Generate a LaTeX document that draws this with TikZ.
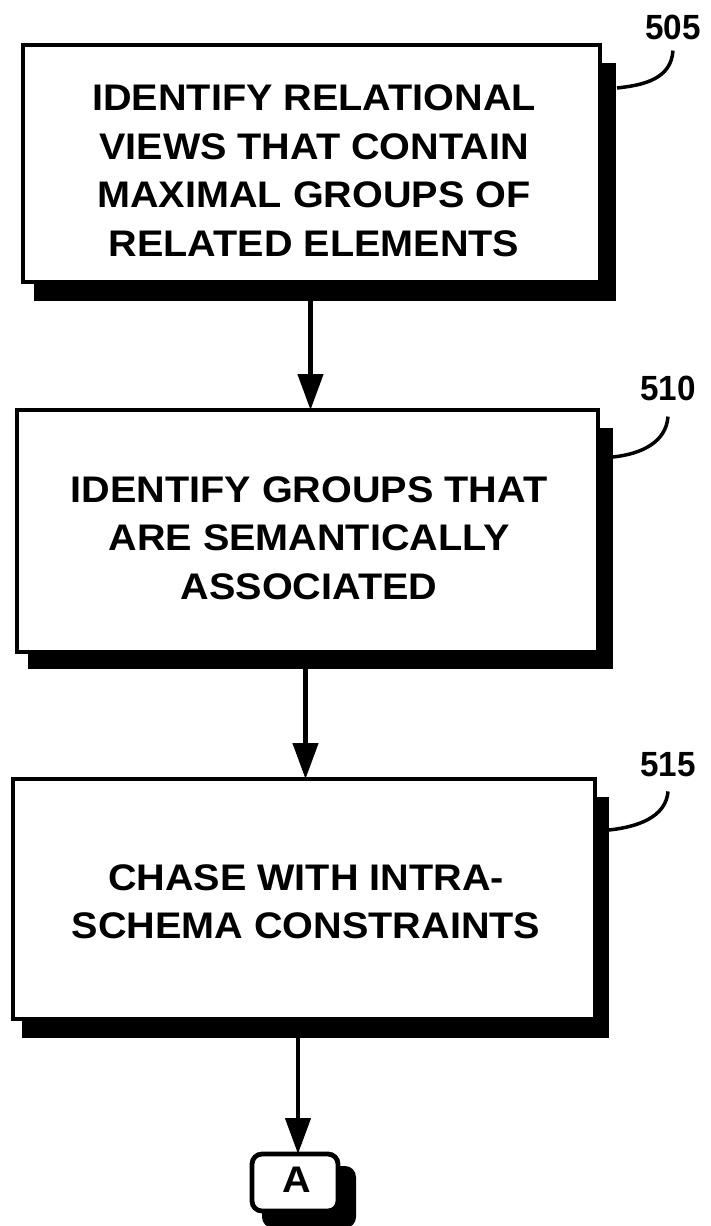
\documentclass[tikz,border=0pt]{standalone}
\usepackage{fontspec}
\newfontfamily\boxfont{Liberation Sans}[FakeStretch=1.07]
\newfontfamily\numfont{Liberation Sans}[FakeStretch=0.95]
\usetikzlibrary{arrows.meta,calc}
\begin{document}
\begin{tikzpicture}[x=1pt,y=-1pt,
  stepbox/.style={draw,line width=4.8pt,fill=white,inner sep=0pt,outer sep=0pt},
  steptext/.style={align=center,inner sep=0pt,font=\boxfont\bfseries\fontsize{37}{48.5}\selectfont},
  shadowbox/.style={fill=black,inner sep=0pt,outer sep=0pt},
  arr/.style={line width=4.5pt,-{Triangle[length=36pt,width=25pt]}},
  leader/.style={line width=3.5pt},
  reflabel/.style={inner sep=0pt,font=\numfont\bfseries\fontsize{35}{35}\selectfont}]
\useasboundingbox (0,0) rectangle (711,1226);
\fill[white] (0,0) rectangle (711,1226);

% box 1
\node[shadowbox,minimum width=582pt,minimum height=238pt] (s1) at (325,182) {};
\node[stepbox,minimum width=577pt,minimum height=237pt] (b1) at (311.5,163.5) {};
\node[steptext] (t1) at (314,171) {IDENTIFY RELATIONAL\\VIEWS THAT CONTAIN\\MAXIMAL GROUPS OF\\RELATED ELEMENTS};

% box 2
\node[shadowbox,minimum width=585pt,minimum height=241pt] (s2) at (320.5,548.5) {};
\node[stepbox,minimum width=581pt,minimum height=242pt] (b2) at (307.5,531) {};
\node[steptext] (t2) at (309,538) {IDENTIFY GROUPS THAT\\ARE SEMANTICALLY\\ASSOCIATED};

% box 3
\node[shadowbox,minimum width=587pt,minimum height=241pt] (s3) at (315.5,917.5) {};
\node[stepbox,minimum width=582pt,minimum height=240pt] (b3) at (304,899) {};
\node[steptext] (t3) at (306,902) {CHASE WITH INTRA-\\SCHEMA CONSTRAINTS};

% connector A
\node[shadowbox,rounded corners=11pt,minimum width=94pt,minimum height=62pt] (sA) at (309,1197) {};
\node[stepbox,rounded corners=10pt,minimum width=86pt,minimum height=57pt] (A) at (295,1182.5) {};
\node[steptext] (tA) at (297,1180) {A};

% arrows
\draw[arr] ([xshift=3pt]b2.north |- s1.south) -- ([xshift=3pt]b2.north);
\draw[arr] ([xshift=1.5pt]b3.north |- s2.south) -- ([xshift=1.5pt]b3.north);
\draw[arr] ([xshift=3pt]A.north |- s3.south) -- ([xshift=3pt]A.north);

% reference labels
\node[reflabel] (l505) at (673,27) {505};
\node[reflabel] (l510) at (668,388) {510};
\node[reflabel] (l515) at (668,765) {515};
\coordinate (e505) at (617,88);
\coordinate (e510) at (613,457);
\coordinate (e515) at (609,830);
\draw[leader] ([yshift=-11pt]l505.south) .. controls +(-2,28) and +(28,-3) .. (e505);
\draw[leader] ([yshift=-16pt]l510.south) .. controls +(-2,26) and +(28,-3) .. (e510);
\draw[leader] ([yshift=-14pt]l515.south) .. controls +(-2,26) and +(28,-3) .. (e515);
\end{tikzpicture}
\end{document}
